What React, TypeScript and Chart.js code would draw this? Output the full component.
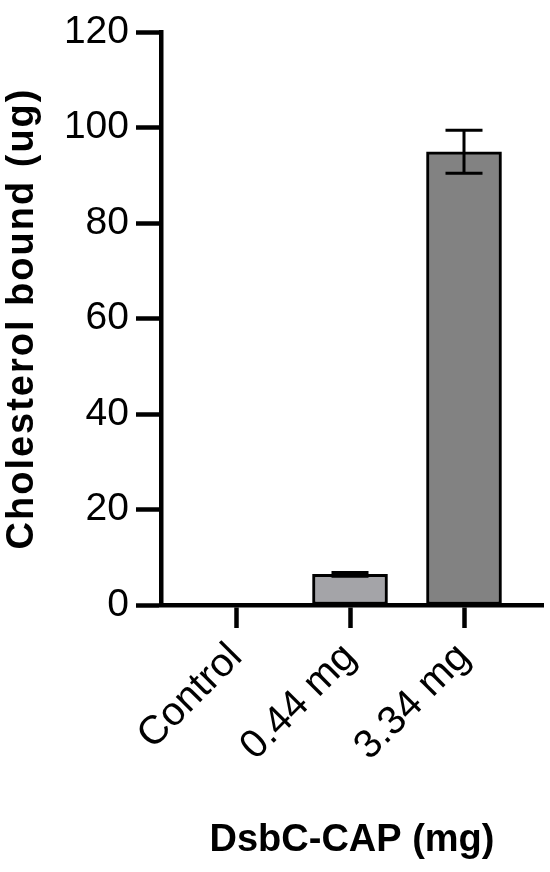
import React, { useEffect, useRef } from 'react';
import { Chart, registerables } from 'chart.js';

Chart.register(...registerables);

// ---- data ----
const categories = ['Control', '0.44 mg', '3.34 mg'];
const means = [0, 6.4, 94.9];
const errors = [0, 0.4, 4.5];
const barColors = ['#ffffff', '#a4a4a8', '#828282'];
const yTicks = [0, 20, 40, 60, 80, 100, 120];
const yTitle = 'Cholesterol bound (ug)';
const xTitle = 'DsbC-CAP (mg)';

const FAMILY = '"Liberation Sans", Arial, Helvetica, sans-serif';

const errorBarPlugin = {
  id: 'errorBars',
  afterDatasetsDraw(chart: any) {
    const { ctx } = chart;
    const x = chart.scales.x;
    const y = chart.scales.y;
    ctx.save();
    ctx.strokeStyle = '#000';
    ctx.lineWidth = 3;
    ctx.lineCap = 'butt';
    means.forEach((m, i) => {
      const e = errors[i];
      if (!e) return;
      const px = x.getPixelForValue(i);
      const top = y.getPixelForValue(m + e);
      const bot = y.getPixelForValue(m - e);
      const half = 18.5;
      ctx.beginPath();
      ctx.moveTo(px, top);
      ctx.lineTo(px, bot);
      ctx.moveTo(px - half, top);
      ctx.lineTo(px + half, top);
      ctx.moveTo(px - half, bot);
      ctx.lineTo(px + half, bot);
      ctx.stroke();
    });
    ctx.restore();
  },
};

const titleSpacingPlugin = {
  id: 'titleSpacing',
  afterLayout(chart: any) {
    const s = chart.scales.y;
    if (s && !s.__wrapped) {
      const orig = s.drawTitle;
      s.drawTitle = function () {
        const c = this.ctx;
        const prev = c.letterSpacing;
        c.letterSpacing = '2px';
        orig.call(this);
        c.letterSpacing = prev || '0px';
      };
      s.__wrapped = true;
    }
  },
};

export default function App() {
  const ref = useRef<HTMLCanvasElement | null>(null);

  useEffect(() => {
    document.body.style.margin = '0';
    const canvas = ref.current;
    if (!canvas) return;
    const chart = new Chart(canvas, {
      type: 'bar',
      data: {
        datasets: [
          {
            data: means.map((v, i) => ({ x: i, y: v })) as any,
            backgroundColor: barColors,
            borderColor: '#000',
            borderWidth: 3,
            borderSkipped: false,
            barThickness: 75,
          },
        ],
      },
      options: {
        animation: false,
        responsive: false,
        devicePixelRatio: 1,
        layout: { padding: { left: 0, top: 32, right: 7, bottom: 0 } },
        plugins: {
          legend: { display: false },
          tooltip: { enabled: false },
        },
        scales: {
          x: {
            type: 'linear',
            min: -0.658,
            max: 2.693,
            offset: false,
            afterBuildTicks: (s: any) => {
              s.ticks = categories.map((_, i) => ({ value: i }));
            },
            afterFit: (s: any) => {
              s.height = 267;
              s.paddingLeft = 0;
              s.paddingRight = 0;
            },
            grid: {
              offset: false,
              drawOnChartArea: false,
              tickLength: 23,
              tickWidth: 4.5,
              tickColor: '#000',
              color: '#000',
            },
            border: { display: true, color: '#000', width: 4.5 },
            ticks: {
              callback: (v: any) => categories[Number(v)] ?? '',
              font: { family: FAMILY, size: 40 },
              color: '#000',
              maxRotation: 45,
              minRotation: 45,
              autoSkip: false,
              padding: 6,
            },
            title: {
              display: true,
              text: xTitle,
              font: { family: FAMILY, size: 38, weight: 'bold' },
              color: '#000',
              padding: { top: 0, bottom: 9 },
            },
          } as any,
          y: {
            min: yTicks[0],
            max: yTicks[yTicks.length - 1],
            afterBuildTicks: (s: any) => {
              s.ticks = yTicks.map((v) => ({ value: v }));
            },
            afterFit: (s: any) => {
              s.width = 161;
              s.paddingTop = 0;
              s.paddingBottom = 0;
            },
            grid: {
              drawOnChartArea: false,
              tickLength: 25,
              tickWidth: 4.5,
              tickColor: '#000',
              color: '#000',
            },
            border: { display: true, color: '#000', width: 4.5 },
            ticks: {
              font: { family: FAMILY, size: 39 },
              color: '#000',
              padding: 7,
            },
            title: {
              display: true,
              text: yTitle,
              font: { family: FAMILY, size: 38, weight: 'bold' },
              color: '#000',
              padding: { top: 0, bottom: 0 },
            },
          },
        },
      },
      plugins: [errorBarPlugin, titleSpacingPlugin],
    });
    return () => chart.destroy();
  }, []);

  return (
    <div style={{ width: 550, height: 872, background: '#fff' }}>
      <canvas ref={ref} width={550} height={872} style={{ display: 'block' }} />
    </div>
  );
}
